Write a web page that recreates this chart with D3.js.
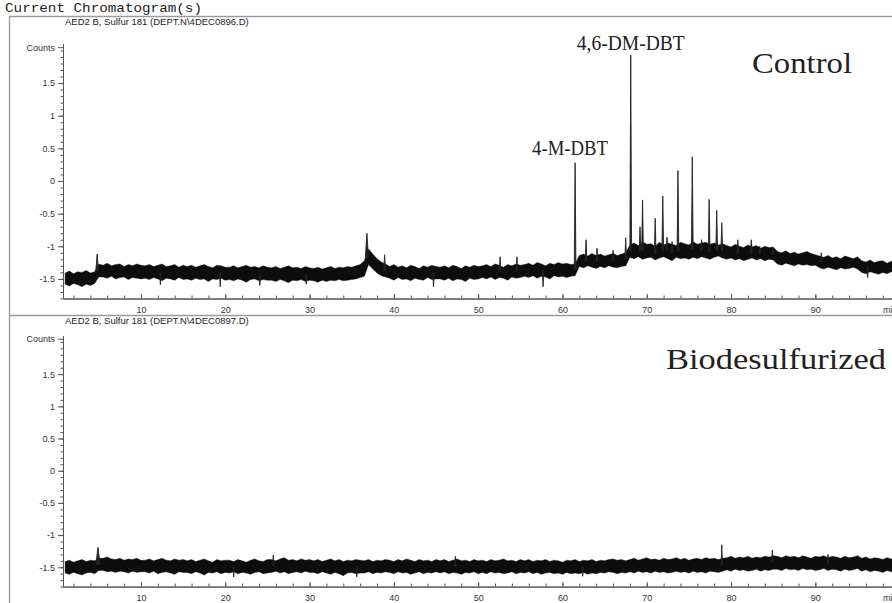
<!DOCTYPE html>
<html>
<head>
<meta charset="utf-8">
<script src="https://cdn.jsdelivr.net/npm/d3@7"></script>
<style>
  body { margin: 0; background: #fff; }
  svg { display: block; }
</style>
</head>
<body>
<div id="chart"></div>
<script>
const width = 892;
const height = 603;

const sampleStart = 1;
const sampleStep = 0.5;

// Control: upper and lower edge of the noisy baseline (counts)
const controlHigh = [
  -1.41,-1.38,-1.42,-1.39,-1.40,-1.37,-1.41,-1.39,
  -1.27,
  -1.29,-1.26,-1.30,-1.28,-1.27,-1.31,-1.28,-1.30,-1.27,-1.29,
  -1.30,-1.28,-1.31,-1.29,-1.27,-1.31,-1.30,-1.28,-1.32,-1.29,
  -1.31,-1.29,-1.32,-1.30,-1.28,-1.31,-1.33,-1.29,-1.30,-1.32,
  -1.32,-1.30,-1.33,-1.31,-1.29,-1.32,-1.31,-1.33,-1.30,-1.32,
  -1.33,-1.31,-1.34,-1.32,-1.30,-1.33,-1.32,-1.34,-1.31,-1.33,
  -1.34,-1.32,-1.35,-1.33,-1.31,-1.34,-1.32,-1.33,-1.31,-1.32,-1.30,-1.28,
  -1.22,-1.04,-1.12,-1.19,-1.24,-1.27,
  -1.31,-1.28,-1.32,-1.30,-1.33,-1.29,-1.31,-1.34,-1.30,-1.32,-1.29,-1.31,
  -1.32,-1.30,-1.33,-1.29,-1.31,-1.34,-1.30,-1.32,-1.29,-1.31,
  -1.30,-1.28,-1.31,-1.27,-1.29,-1.32,-1.28,-1.30,-1.27,-1.29,
  -1.28,-1.26,-1.29,-1.25,-1.27,-1.30,-1.26,-1.28,-1.25,-1.27,-1.26,-1.28,-1.27,
  -1.14,-1.12,-1.15,-1.11,-1.14,-1.12,-1.15,-1.13,-1.11,-1.14,-1.12,-1.10,
  -0.98,-0.95,-0.99,-0.93,-0.97,-0.96,-1.00,-0.94,-0.98,-0.95,-0.97,-0.99,
  -0.94,-0.96,-0.98,-0.93,-0.97,-0.95,-0.94,-0.97,-0.95,-0.98,-0.96,
  -0.99,-1.01,-0.97,-1.00,-1.02,-0.98,-1.01,-0.99,-1.03,-1.00,-1.02,-1.01,
  -1.08,-1.10,-1.07,-1.11,-1.09,-1.12,-1.10,-1.08,-1.11,-1.13,
  -1.15,-1.17,-1.14,-1.18,-1.16,-1.19,-1.15,-1.17,-1.19,-1.16,
  -1.22,-1.24,-1.21,-1.25,-1.23,-1.22,-1.26,-1.23,-1.24,-1.22,-1.25,-1.23
];
const controlLow = [
  -1.58,-1.61,-1.57,-1.59,-1.62,-1.58,-1.60,-1.57,
  -1.47,
  -1.47,-1.49,-1.46,-1.50,-1.48,-1.47,-1.51,-1.48,-1.49,-1.50,
  -1.49,-1.51,-1.48,-1.50,-1.53,-1.49,-1.50,-1.52,-1.48,-1.51,
  -1.50,-1.52,-1.49,-1.51,-1.50,-1.54,-1.50,-1.51,-1.49,-1.52,
  -1.51,-1.53,-1.50,-1.52,-1.55,-1.51,-1.50,-1.53,-1.51,-1.52,
  -1.52,-1.54,-1.51,-1.53,-1.56,-1.52,-1.53,-1.51,-1.54,-1.52,
  -1.53,-1.55,-1.52,-1.54,-1.52,-1.53,-1.51,-1.53,-1.52,-1.51,-1.50,-1.48,
  -1.46,-1.28,-1.35,-1.41,-1.45,-1.47,
  -1.49,-1.52,-1.48,-1.51,-1.50,-1.53,-1.49,-1.51,-1.52,-1.48,-1.51,-1.50,
  -1.50,-1.52,-1.49,-1.53,-1.50,-1.51,-1.54,-1.49,-1.51,-1.50,
  -1.48,-1.50,-1.47,-1.51,-1.48,-1.49,-1.52,-1.47,-1.49,-1.48,
  -1.46,-1.48,-1.45,-1.49,-1.46,-1.47,-1.50,-1.45,-1.47,-1.46,-1.48,-1.46,-1.45,
  -1.31,-1.33,-1.30,-1.32,-1.34,-1.31,-1.33,-1.30,-1.32,-1.33,-1.31,-1.30,
  -1.17,-1.19,-1.16,-1.20,-1.18,-1.17,-1.21,-1.18,-1.16,-1.19,-1.22,-1.17,
  -1.19,-1.18,-1.20,-1.17,-1.19,-1.16,-1.18,-1.20,-1.17,-1.15,-1.18,
  -1.20,-1.18,-1.21,-1.19,-1.22,-1.20,-1.18,-1.21,-1.19,-1.22,-1.20,-1.21,
  -1.27,-1.29,-1.26,-1.28,-1.30,-1.27,-1.29,-1.28,-1.30,-1.29,
  -1.33,-1.35,-1.32,-1.34,-1.36,-1.33,-1.35,-1.34,-1.32,-1.35,
  -1.40,-1.42,-1.39,-1.41,-1.43,-1.40,-1.42,-1.39,-1.41,-1.43,-1.40,-1.42
];
// Control: peaks and noise spikes (time in min, tip in counts, half width in min)
const controlPeakTimes = [4.8, 36.8, 38.9, 52.6, 54.6, 61.5, 62.8, 64.1, 66.0, 67.5, 68.1, 69.2, 69.5,
  71.0, 71.9, 72.4, 73.0, 73.7, 75.4, 76.5, 77.4, 78.3, 78.9, 80.8, 82.4, 83.4, 85.0,
  12.3, 19.4, 24.1, 29.6, 44.7, 57.7, 90.7, 96.2];
const controlPeakApex = [-1.12, -0.80, -1.13, -1.16, -1.16, 0.28, -0.90, -1.03, -1.06, -0.87, 1.93, -0.70, -0.29,
  -0.57, -0.23, -0.86, -0.93, 0.16, 0.37, -0.90, -0.28, -0.45, -0.64, -0.90, -0.90, -1.00, -1.03,
  -1.59, -1.62, -1.60, -1.58, -1.62, -1.62, -1.10, -1.48];
const controlPeakWidth = [0.15, 0.18, 0.1, 0.08, 0.08, 0.1, 0.1, 0.1, 0.1, 0.1, 0.1, 0.1, 0.1,
  0.1, 0.1, 0.1, 0.1, 0.1, 0.1, 0.1, 0.1, 0.1, 0.1, 0.12, 0.12, 0.12, 0.12,
  0.08, 0.08, 0.08, 0.08, 0.08, 0.08, 0.08, 0.08];

// Biodesulfurized: upper and lower edge of the noisy baseline (counts)
const bioHigh = [
  -1.41,-1.39,-1.42,-1.40,-1.38,-1.41,-1.39,-1.40,
  -1.36,
  -1.36,-1.34,-1.37,-1.38,-1.36,-1.39,-1.37,-1.38,-1.36,-1.39,
  -1.39,-1.37,-1.40,-1.38,-1.36,-1.39,-1.40,-1.37,-1.39,-1.38,
  -1.40,-1.38,-1.41,-1.39,-1.37,-1.40,-1.42,-1.38,-1.40,-1.39,
  -1.39,-1.41,-1.38,-1.40,-1.42,-1.39,-1.37,-1.40,-1.41,-1.38,
  -1.38,-1.40,-1.37,-1.35,-1.39,-1.38,-1.40,-1.37,-1.39,-1.38,
  -1.40,-1.38,-1.41,-1.39,-1.37,-1.40,-1.38,-1.41,-1.39,-1.40,-1.38,-1.39,
  -1.40,-1.38,-1.41,-1.39,-1.40,-1.38,
  -1.39,-1.41,-1.38,-1.40,-1.37,-1.39,-1.41,-1.38,-1.40,-1.39,-1.41,-1.38,
  -1.40,-1.38,-1.41,-1.39,-1.37,-1.40,-1.39,-1.41,-1.38,-1.40,
  -1.39,-1.41,-1.38,-1.40,-1.39,-1.37,-1.40,-1.39,-1.41,-1.38,
  -1.40,-1.38,-1.41,-1.39,-1.40,-1.38,-1.41,-1.39,-1.40,-1.42,-1.39,-1.40,-1.38,
  -1.41,-1.39,-1.40,-1.38,-1.41,-1.39,-1.40,-1.38,-1.37,-1.39,-1.38,-1.40,
  -1.38,-1.36,-1.39,-1.37,-1.35,-1.38,-1.37,-1.39,-1.36,-1.38,-1.37,-1.35,
  -1.38,-1.36,-1.39,-1.37,-1.36,-1.38,-1.35,-1.37,-1.36,-1.38,-1.36,
  -1.35,-1.33,-1.36,-1.34,-1.35,-1.33,-1.36,-1.34,-1.35,-1.33,-1.34,-1.32,
  -1.33,-1.35,-1.32,-1.34,-1.33,-1.35,-1.32,-1.34,-1.36,-1.33,
  -1.34,-1.32,-1.35,-1.33,-1.34,-1.36,-1.33,-1.35,-1.34,-1.32,
  -1.36,-1.34,-1.37,-1.35,-1.36,-1.38,-1.35,-1.37,-1.36,-1.34,-1.37,-1.35
];
const bioLow = [
  -1.59,-1.61,-1.58,-1.60,-1.62,-1.59,-1.58,-1.60,
  -1.55,
  -1.55,-1.57,-1.56,-1.58,-1.56,-1.57,-1.59,-1.56,-1.58,-1.57,
  -1.57,-1.59,-1.56,-1.60,-1.58,-1.57,-1.59,-1.61,-1.57,-1.58,
  -1.58,-1.60,-1.57,-1.59,-1.62,-1.58,-1.59,-1.57,-1.60,-1.58,
  -1.59,-1.57,-1.60,-1.58,-1.59,-1.61,-1.58,-1.57,-1.60,-1.59,
  -1.58,-1.56,-1.59,-1.57,-1.60,-1.58,-1.57,-1.59,-1.56,-1.58,
  -1.58,-1.60,-1.57,-1.59,-1.61,-1.58,-1.60,-1.63,-1.59,-1.58,-1.60,-1.59,
  -1.59,-1.57,-1.60,-1.58,-1.59,-1.57,
  -1.58,-1.60,-1.57,-1.59,-1.58,-1.61,-1.59,-1.57,-1.60,-1.58,-1.59,-1.57,
  -1.59,-1.57,-1.60,-1.58,-1.59,-1.61,-1.58,-1.59,-1.57,-1.60,
  -1.58,-1.60,-1.57,-1.59,-1.58,-1.60,-1.59,-1.57,-1.60,-1.58,
  -1.59,-1.57,-1.60,-1.58,-1.61,-1.59,-1.58,-1.60,-1.59,-1.61,-1.58,-1.60,-1.59,
  -1.60,-1.58,-1.61,-1.59,-1.60,-1.58,-1.59,-1.57,-1.58,-1.60,-1.58,-1.59,
  -1.57,-1.59,-1.56,-1.58,-1.57,-1.59,-1.56,-1.58,-1.57,-1.59,-1.58,-1.56,
  -1.58,-1.57,-1.59,-1.56,-1.58,-1.57,-1.59,-1.56,-1.57,-1.58,-1.56,
  -1.54,-1.56,-1.53,-1.55,-1.54,-1.56,-1.55,-1.53,-1.56,-1.54,-1.55,-1.53,
  -1.53,-1.55,-1.52,-1.54,-1.53,-1.55,-1.52,-1.54,-1.53,-1.55,
  -1.54,-1.52,-1.55,-1.53,-1.54,-1.56,-1.53,-1.55,-1.54,-1.52,
  -1.56,-1.54,-1.57,-1.55,-1.56,-1.58,-1.55,-1.57,-1.56,-1.54,-1.57,-1.55
];
const bioPeakTimes = [4.9, 78.9, 84.9, 21.0, 25.7, 35.6, 47.3, 62.4, 91.5];
const bioPeakApex = [-1.19, -1.15, -1.23, -1.65, -1.31, -1.65, -1.33, -1.64, -1.30];
const bioPeakWidth = [0.25, 0.08, 0.08, 0.08, 0.08, 0.08, 0.08, 0.08, 0.08];

// axis ticks
const xTicks = [10, 20, 30, 40, 50, 60, 70, 80, 90];
const xMinorTicks = d3.range(1, 51).map((d) => d * 2);
const yTicks = [-1.5, -1, -0.5, 0, 0.5, 1, 1.5];
const yTickLabels = ["-1.5", "-1", "-0.5", "0", "0.5", "1", "1.5"];
const yMinorTicks = d3.range(-18, 21).map((d) => d / 10);

const fileNames = [
  "AED2 B, Sulfur 181 (DEPT.N\\4DEC0896.D)",
  "AED2 B, Sulfur 181 (DEPT.N\\4DEC0897.D)"
];

//////////////////////////////////////////////////////////////////////////////

const svg = d3
  .select("#chart")
  .append("svg")
  .attr("width", width)
  .attr("height", height);

const frameColor = "#9a9a9a";
const textColor = "#333";

svg
  .append("text")
  .attr("x", 5)
  .attr("y", 11.5)
  .attr("font-family", "Liberation Mono, monospace")
  .attr("font-size", 13)
  .attr("textLength", 197)
  .attr("lengthAdjust", "spacingAndGlyphs")
  .attr("fill", "#222")
  .text("Current Chromatogram(s)");

// panel frame
svg.append("line").attr("x1", 9).attr("x2", width).attr("y1", 16.5).attr("y2", 16.5)
  .attr("stroke", frameColor).attr("stroke-width", 1.3);
svg.append("line").attr("x1", 9.5).attr("x2", 9.5).attr("y1", 16).attr("y2", height)
  .attr("stroke", frameColor).attr("stroke-width", 1.3);
svg.append("line").attr("x1", 9).attr("x2", width).attr("y1", 315.5).attr("y2", 315.5)
  .attr("stroke", frameColor).attr("stroke-width", 1.3);

const x = d3.scaleLinear().domain([0.75, 101.5]).range([63, 912.3]);

const panels = [
  {
    name: fileNames[0],
    high: controlHigh,
    low: controlLow,
    peakTimes: controlPeakTimes,
    peakApex: controlPeakApex,
    peakWidth: controlPeakWidth,
    yRange: [298.5, 43.9],
    titleY: 25,
    tag: { text: "Control", x: 752, y: 73, len: 100 },
    labels: [
      { text: "4-M-DBT", t: 60.9, v: 0.4, len: 76 },
      { text: "4,6-DM-DBT", t: 68.1, v: 2.0, len: 108 }
    ]
  },
  {
    name: fileNames[1],
    high: bioHigh,
    low: bioLow,
    peakTimes: bioPeakTimes,
    peakApex: bioPeakApex,
    peakWidth: bioPeakWidth,
    yRange: [586.6, 335.5],
    titleY: 323.5,
    tag: { text: "Biodesulfurized", x: 666, y: 369, len: 220 },
    labels: []
  }
];

panels.forEach(drawPanel);

function styleAxis(g) {
  g.attr("font-family", "Liberation Sans, Arial, sans-serif").attr("font-size", 9);
  g.select(".domain").attr("stroke", "#555").attr("stroke-width", 1);
  g.selectAll(".tick line").attr("stroke", "#555");
  g.selectAll(".tick text").attr("fill", textColor);
}

function drawPanel(p, idx) {
  const y = d3.scaleLinear().domain([-1.8, 2.1]).range(p.yRange);
  const g = svg.append("g");

  g.append("text")
    .attr("x", 65)
    .attr("y", p.titleY)
    .attr("font-family", "Liberation Sans, Arial, sans-serif")
    .attr("font-size", 9.5)
    .attr("fill", "#222")
    .text(p.name);

  // y axis: minor then major ticks
  g.append("g")
    .attr("transform", "translate(63,0)")
    .call(d3.axisLeft(y).tickValues(yMinorTicks).tickSize(2.5).tickSizeOuter(0).tickFormat(""))
    .call(styleAxis);
  g.append("g")
    .attr("transform", "translate(63,0)")
    .call(
      d3.axisLeft(y)
        .tickValues(yTicks.concat([2.05]))
        .tickSize(5)
        .tickSizeOuter(0)
        .tickPadding(3)
        .tickFormat((d) => (d === 2.05 ? "Counts" : yTickLabels[yTicks.indexOf(d)]))
    )
    .call(styleAxis);

  // x axis
  g.append("g")
    .attr("transform", `translate(0,${p.yRange[0]})`)
    .call(d3.axisBottom(x).tickValues(xMinorTicks).tickSize(-3).tickSizeOuter(0).tickFormat(""))
    .call(styleAxis);
  g.append("g")
    .attr("transform", `translate(0,${p.yRange[0]})`)
    .call(d3.axisBottom(x).tickValues(xTicks).tickSize(-4.5).tickSizeOuter(0).tickPadding(8))
    .call(styleAxis);

  g.append("text")
    .attr("x", 883)
    .attr("y", p.yRange[0] + 14.5)
    .attr("font-family", "Liberation Sans, Arial, sans-serif")
    .attr("font-size", 9)
    .attr("fill", textColor)
    .text("min");

  // trace
  const clipId = "clip" + idx;
  svg.append("clipPath")
    .attr("id", clipId)
    .append("rect")
    .attr("x", 63.5)
    .attr("y", p.yRange[1])
    .attr("width", width - 63.5)
    .attr("height", p.yRange[0] - p.yRange[1] - 1);

  const n = Math.min(p.high.length, p.low.length);
  const band = d3.range(n).map((i) => ({
    t: sampleStart + i * sampleStep,
    hi: p.high[i],
    lo: p.low[i]
  }));

  const trace = g.append("g").attr("clip-path", `url(#${clipId})`);

  trace.append("path")
    .datum(band)
    .attr("d", d3.area().x((d) => x(d.t)).y0((d) => y(d.lo)).y1((d) => y(d.hi)))
    .attr("fill", "#0d0d0d")
    .attr("stroke", "#0d0d0d")
    .attr("stroke-width", 0.4);

  const peaks = p.peakTimes.map((t, i) => {
    const k = Math.max(0, Math.min(n - 1, Math.round((t - sampleStart) / sampleStep)));
    const base = (band[k].hi + band[k].lo) / 2;
    return [
      [t - p.peakWidth[i], base],
      [t, p.peakApex[i]],
      [t + p.peakWidth[i], base]
    ];
  });

  const peakLine = d3.line().x((d) => x(d[0])).y((d) => y(d[1]));

  trace.selectAll(".peak")
    .data(peaks)
    .enter()
    .append("path")
    .attr("class", "peak")
    .attr("d", (d) => peakLine(d) + "Z")
    .attr("fill", "#222")
    .attr("stroke", "#222")
    .attr("stroke-width", 0.9)
    .attr("stroke-linejoin", "miter");

  // annotations
  g.selectAll(".peak-label")
    .data(p.labels)
    .enter()
    .append("text")
    .attr("class", "peak-label")
    .attr("x", (d) => x(d.t) - d.len / 2)
    .attr("y", (d) => y(d.v))
    .attr("font-family", "Liberation Serif, serif")
    .attr("font-size", 20)
    .attr("textLength", (d) => d.len)
    .attr("lengthAdjust", "spacingAndGlyphs")
    .attr("fill", "#222")
    .text((d) => d.text);

  g.append("text")
    .attr("x", p.tag.x)
    .attr("y", p.tag.y)
    .attr("font-family", "Liberation Serif, serif")
    .attr("font-size", 29)
    .attr("textLength", p.tag.len)
    .attr("lengthAdjust", "spacingAndGlyphs")
    .attr("fill", "#222")
    .text(p.tag.text);
}
</script>
</body>
</html>
